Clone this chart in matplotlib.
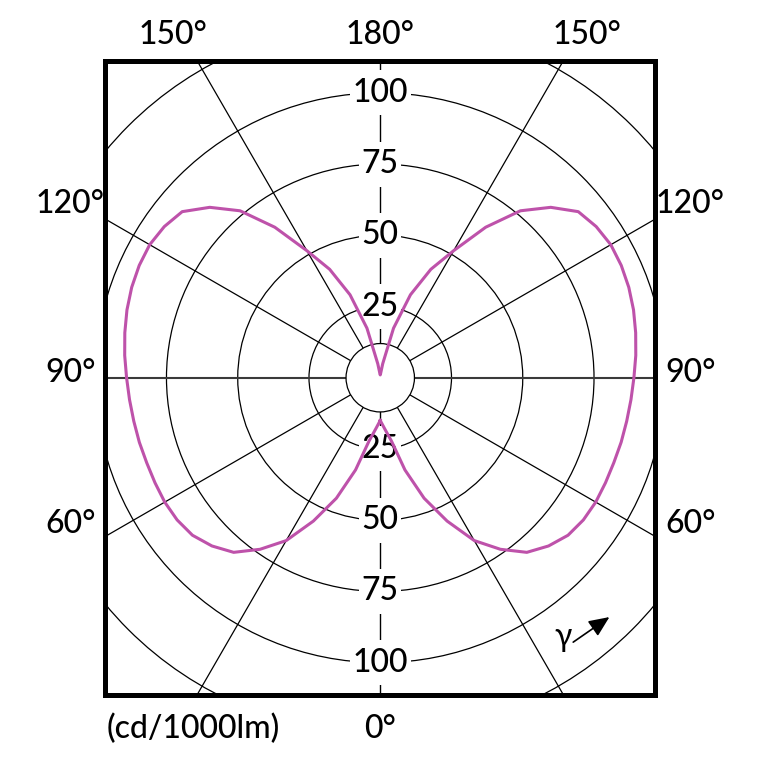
import numpy as np
import matplotlib
matplotlib.use('Agg')
import matplotlib.pyplot as plt
from matplotlib.patches import Circle, Rectangle

plt.rcParams['font.family'] = ['Lato', 'DejaVu Sans']

# luminous intensity (cd/1000lm) against gamma angle, 0 = straight down
gamma = [0, 5, 10, 15, 20, 25, 30, 35, 40, 45, 50, 55, 60, 65, 70, 75, 80, 85, 90,
         95, 100, 105, 110, 115, 120, 125, 130, 135, 140, 145, 150, 155, 160, 165,
         170, 175, 180]
intensity = [15, 18, 22.5, 33.5, 45, 55.5, 66, 73.5, 80, 83.5, 86, 87, 87.3, 87.2, 87.2,
             87.5, 87.8, 88.3, 89, 90, 91, 92, 92.8, 93.3, 93.4, 92.5, 90.7, 84.6,
             76.5, 64.5, 51.5, 42, 31, 18, 5, 1.5, 1]

rings = [25, 50, 75, 100, 125]
ring_labels = [25, 50, 75, 100]
spokes = [30, 60, 90, 120, 150]
top_labels = ['150°', '180°', '150°']
side_labels = ['120°', '90°', '60°']
unit_label = '(cd/1000lm)'

curve_color = '#BE52AA'
fs = 23

fig = plt.figure(figsize=(7.66, 7.66), dpi=100)
ax = fig.add_axes([0.1377, 0.0927, 0.7174, 0.8283])
ax.set_xlim(-96.4, 96.4)
ax.set_ylim(-111.35, 111.35)
ax.set_xticks([])
ax.set_yticks([])
for sp in ax.spines.values():
    sp.set_linewidth(3.6)
    sp.set_zorder(10)

# grid: circles, spokes, vertical axis
for r in rings:
    ax.add_patch(Circle((0, 0), r, fill=False, ec='black', lw=0.9, zorder=1))

rr = np.array([12, 200])
for a in spokes:
    t = np.radians(a)
    for s in (1, -1):
        if a == 90:
            ax.plot(s * rr * np.sin(t), -rr * np.cos(t), color='#3a3a3a', lw=1.5, zorder=1)
        else:
            ax.plot(s * rr * np.sin(t), -rr * np.cos(t), color='black', lw=0.9, zorder=1)
ax.axvline(0, color='black', lw=1.0, zorder=1)

ax.add_patch(Circle((0, 0), 12, fc='white', ec='black', lw=0.9, zorder=3))

# ring values on the vertical axis
for r in ring_labels:
    for y in (r, -r):
        ax.add_patch(Rectangle((-1.3, y - 7.9), 2.6, 15.8, fc='white', ec='none', zorder=2))
        ax.text(0, y, str(r), ha='center', va='center', fontsize=fs, zorder=4,
                fontweight='medium',
                bbox=dict(fc='white', ec='none', boxstyle='square,pad=0.08'))

# the intensity curve, mirrored on both sides
g = np.radians(np.array(gamma))
i = np.array(intensity)
x = np.concatenate([i * np.sin(g), -(i * np.sin(g))[::-1]])
y = np.concatenate([-i * np.cos(g), (-i * np.cos(g))[::-1]])
ax.plot(x, y, color=curve_color, lw=2.2, zorder=6, solid_joinstyle='round')

# angle labels round the frame
for lab, xx in zip(top_labels, [-72.6, 0, 72.6]):
    ax.text(xx, 120.2, lab, ha='center', va='center', fontsize=fs, fontweight='medium')
for lab, yy in zip(side_labels, [61, 1.6, -51.4]):
    ax.text(-108.8, yy, lab, ha='center', va='center', fontsize=fs, fontweight='medium')
    ax.text(108.8, yy, lab, ha='center', va='center', fontsize=fs, fontweight='medium')
ax.text(0, -123.3, '0°', ha='center', va='center', fontsize=fs, fontweight='medium')
ax.text(-65.6, -123.3, unit_label, ha='center', va='center', fontsize=fs,
        fontweight='medium')

# gamma direction mark
ax.text(64, -91, 'γ', ha='center', va='center', fontsize=fs, zorder=4)
ax.annotate('', xy=(80.4, -84), xytext=(67.7, -92.8),
            arrowprops=dict(arrowstyle='-|>,head_length=0.5,head_width=0.22',
                            mutation_scale=25, lw=1.2, color='black',
                            shrinkA=0, shrinkB=0))

fig.savefig('out.png', dpi=100)
